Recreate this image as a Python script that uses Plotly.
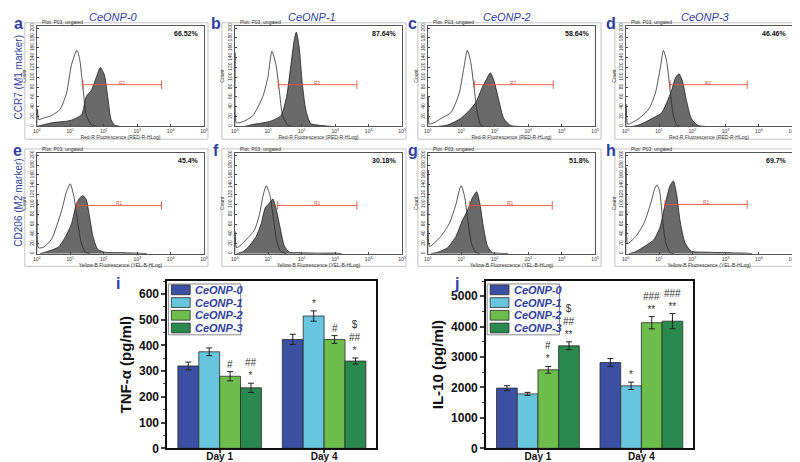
import plotly.graph_objects as go

W, H = 800, 462

# ---------------- Flow cytometry histograms (x in log10 decades, y = count) ----------------
panel_titles = ["CeONP-0", "CeONP-1", "CeONP-2", "CeONP-3"]
panel_letters = ["a", "b", "c", "d", "e", "f", "g", "h"]
percentages = ["66.52%", "87.64%", "58.64%", "46.46%", "45.4%", "30.18%", "51.8%", "69.7%"]
gate_names = ["R2", "R2", "R2", "R2", "R1", "R1", "R1", "R1"]
gate_lo = [1.38, 1.30, 1.40, 1.33, 1.21, 1.28, 1.25, 1.18]
gate_hi = [3.73, 3.65, 3.75, 3.65, 3.73, 3.65, 3.72, 3.65]
gate_level = [85, 85, 85, 85, 98, 98, 98, 100]
x_titles = ["Red-R Fluorescence (RED-R-HLog)"] * 4 + ["Yellow-B Fluorescence (YEL-B-HLog)"] * 4
row_labels = ["CCR7 (M1 marker)", "CD206 (M2 marker)"]

open_x = [
    [0.0, 0.02, 0.06, 0.15, 0.44, 0.7, 0.89, 1.04, 1.2, 1.28, 1.38, 1.48, 1.63, 1.8],
    [0.0, 0.01, 0.05, 0.22, 0.54, 0.84, 0.99, 1.11, 1.23, 1.33, 1.43, 1.58, 1.75],
    [0.0, 0.01, 0.05, 0.2, 0.39, 0.69, 0.94, 1.08, 1.18, 1.28, 1.38, 1.48, 1.58, 1.7],
    [0.0, 0.01, 0.05, 0.1, 0.39, 0.69, 0.89, 1.04, 1.13, 1.23, 1.33, 1.43, 1.53, 1.65],
    [0.0, 0.01, 0.05, 0.2, 0.44, 0.74, 0.89, 1.0, 1.11, 1.23, 1.33, 1.45, 1.6],
    [0.0, 0.01, 0.05, 0.15, 0.35, 0.59, 0.74, 0.84, 0.94, 1.04, 1.14, 1.23, 1.33, 1.43, 1.55],
    [0.0, 0.01, 0.05, 0.2, 0.39, 0.64, 0.84, 0.94, 1.0, 1.1, 1.2, 1.3, 1.43, 1.55],
    [0.0, 0.01, 0.05, 0.1, 0.3, 0.54, 0.74, 0.87, 0.94, 1.02, 1.1, 1.2, 1.33, 1.45],
]
open_y = [
    [0, 35, 14, 16, 22, 35, 68, 126, 155, 138, 80, 22, 4, 0],
    [0, 150, 8, 9, 22, 61, 100, 153, 126, 74, 22, 3, 0],
    [0, 60, 5, 8, 16, 28, 68, 120, 155, 132, 80, 28, 3, 0],
    [0, 45, 5, 5, 16, 35, 68, 120, 155, 132, 74, 22, 3, 0],
    [0, 110, 12, 13, 29, 87, 126, 142, 116, 61, 22, 3, 0],
    [0, 45, 12, 16, 29, 48, 80, 116, 138, 122, 80, 35, 9, 2, 0],
    [0, 170, 15, 22, 35, 61, 100, 129, 138, 116, 67, 22, 3, 0],
    [0, 175, 20, 22, 35, 61, 100, 132, 140, 126, 74, 22, 2, 0],
]
fill_x = [
    [0.0, 0.3, 0.5, 1.0, 1.34, 1.48, 1.63, 1.78, 1.9, 2.02, 2.12, 2.22, 2.32, 2.5],
    [0.3, 0.54, 1.04, 1.38, 1.55, 1.68, 1.78, 1.84, 1.92, 2.02, 2.12, 2.27, 2.6, 2.9],
    [0.3, 0.59, 0.98, 1.23, 1.43, 1.63, 1.73, 1.87, 1.99, 2.12, 2.27, 2.47, 2.7],
    [0.2, 0.39, 0.79, 1.08, 1.23, 1.38, 1.5, 1.6, 1.7, 1.82, 1.97, 2.17, 2.4],
    [0.1, 0.3, 0.64, 0.84, 1.04, 1.18, 1.28, 1.38, 1.48, 1.58, 1.68, 1.82, 2.02, 2.5, 3.0, 3.3],
    [0.05, 0.25, 0.44, 0.64, 0.79, 0.91, 1.04, 1.14, 1.23, 1.35, 1.48, 1.63, 1.9, 2.5, 3.0, 3.2],
    [0.1, 0.3, 0.59, 0.84, 1.03, 1.18, 1.33, 1.46, 1.56, 1.66, 1.78, 1.92, 2.1, 2.4],
    [0.1, 0.3, 0.59, 0.84, 1.03, 1.18, 1.33, 1.43, 1.53, 1.63, 1.78, 1.97, 2.37, 3.0, 3.6, 3.8],
]
fill_y = [
    [0, 5, 8, 12, 24, 61, 73, 100, 120, 105, 61, 14, 3, 0],
    [0, 4, 10, 22, 61, 126, 177, 192, 164, 87, 35, 6, 2, 0],
    [0, 3, 16, 32, 48, 80, 93, 109, 90, 54, 16, 2, 0],
    [0, 3, 16, 28, 48, 74, 100, 107, 93, 54, 16, 2, 0],
    [0, 4, 13, 32, 61, 100, 113, 118, 110, 74, 35, 9, 3, 2, 1, 0],
    [0, 4, 16, 35, 61, 93, 103, 111, 93, 55, 16, 3, 2, 1, 1, 0],
    [0, 3, 12, 35, 67, 87, 113, 126, 100, 55, 16, 2, 1, 0],
    [0, 4, 16, 28, 54, 100, 138, 148, 120, 67, 22, 5, 3, 2, 1, 0],
]
count_ticks = [0, 20, 40, 60, 80, 100, 120, 140, 160, 180, 200]
decade_ticks = [0, 1, 2, 3, 4, 5]

# ---------------- Cytokine bar charts ----------------
days = ["Day 1", "Day 4"]
groups = ["CeONP-0", "CeONP-1", "CeONP-2", "CeONP-3"]
tnf = [[320, 423], [375, 514], [280, 423], [235, 339]]
tnf_err = [[15, 20], [15, 20], [18, 15], [18, 12]]
tnf_sig = [["", ""], ["", "*"], ["#", "#"], ["##<br>*", "$<br>##<br>*"]]
il10 = [[1980, 2820], [1790, 2055], [2580, 4130], [3370, 4180]]
il10_err = [[80, 130], [50, 120], [110, 200], [130, 250]]
il10_sig = [["", ""], ["", "*"], ["#<br>*", "###<br>**"], ["$<br>##<br>**", "###<br>**"]]
bar_colors = ["#3b4fa3", "#67c6dd", "#6dbd4d", "#2a8a4e"]

BLUE = "#2f40a0"
FONT = "Arial, Liberation Sans, sans-serif"

fig = go.Figure()
layout = dict(
    width=W, height=H, autosize=False,
    margin=dict(l=0, r=0, t=0, b=0),
    paper_bgcolor="white", plot_bgcolor="white",
    font=dict(family=FONT, color="#222"),
    barmode="group", bargap=0.2, bargroupgap=0,
    showlegend=False,
)
annotations = []
shapes = []

xl = [25, 225, 420, 620]
xr = [194, 394, 589, 788]
yt = [15, 145]
yb = [118, 248]
title_cx = [103, 303, 500, 700]
letter_pos = [(7, 13), (206, 13), (405, 13), (605, 13), (6, 143), (206, 143), (405, 143), (605, 143)]
frame_x = [(13, 198), (212, 398), (410, 595), (609, 795)]
frame_y = [(12, 131), (141, 261)]

for k in range(8):
    r, c = divmod(k, 4)
    n = k + 1
    xs = "x" if n == 1 else f"x{n}"
    ys = "y" if n == 1 else f"y{n}"
    xa = "xaxis" if n == 1 else f"xaxis{n}"
    ya = "yaxis" if n == 1 else f"yaxis{n}"

    fig.add_trace(go.Scatter(
        x=[10 ** v for v in fill_x[k]], y=fill_y[k], mode="lines",
        line=dict(color="#1e1e1e", width=0.8, shape="spline", smoothing=0.6),
        fill="tozeroy", fillcolor="#6a6a6a", xaxis=xs, yaxis=ys,
        showlegend=False, hoverinfo="skip"))
    fig.add_trace(go.Scatter(
        x=[10 ** v for v in open_x[k]], y=open_y[k], mode="lines",
        line=dict(color="#2a2a2a", width=0.8, shape="spline", smoothing=0.6),
        xaxis=xs, yaxis=ys, showlegend=False, hoverinfo="skip"))
    fig.add_trace(go.Scatter(
        x=[10 ** gate_lo[k], 10 ** gate_hi[k]], y=[gate_level[k], gate_level[k]],
        mode="lines+markers", line=dict(color="#e5523f", width=0.9),
        marker=dict(symbol="line-ns", size=6, line=dict(color="#e5523f", width=0.9)),
        xaxis=xs, yaxis=ys, showlegend=False, hoverinfo="skip"))

    layout[xa] = dict(
        domain=[xl[c] / W, xr[c] / W], anchor=ys, type="log", range=[0, 5],
        tickvals=[10 ** d for d in decade_ticks],
        ticktext=[f"10<sup>{d}</sup>" for d in decade_ticks],
        tickfont=dict(size=5, color="#333"), ticks="inside", ticklen=2, tickcolor="#444",
        showline=True, mirror=True, linecolor="#555", linewidth=1,
        showgrid=False, zeroline=False,
        title=dict(text=x_titles[k], font=dict(size=5, color="#333"), standoff=1))
    layout[ya] = dict(
        domain=[1 - yb[r] / H, 1 - yt[r] / H], anchor=xs, range=[0, 205],
        tickvals=count_ticks, tickangle=-90,
        tickfont=dict(size=5, color="#333"), ticks="inside", ticklen=2, tickcolor="#444",
        showline=True, mirror=True, linecolor="#555", linewidth=1,
        showgrid=False, zeroline=False,
        title=dict(text="Count", font=dict(size=5, color="#333"), standoff=1))

    annotations.append(dict(
        x=(gate_lo[k] + gate_hi[k]) / 2, y=gate_level[k], xref=xs, yref=ys,
        text=gate_names[k], showarrow=False, font=dict(size=5, color="#e5523f"),
        xanchor="center", yanchor="bottom", yshift=-3))
    annotations.append(dict(
        x=(xr[c] - 3) / W, y=1 - (yt[r] + 2) / H, xref="paper", yref="paper",
        text=f"<b>{percentages[k]}</b>", showarrow=False, xanchor="right", yanchor="top",
        font=dict(size=7, color="#111")))
    annotations.append(dict(
        x=(xl[c] + 3) / W, y=1 - (yt[r] + 1) / H, xref="paper", yref="paper",
        text="Plot: P03, ungated", showarrow=False, xanchor="left", yanchor="bottom",
        font=dict(size=5, color="#333")))
    lx, ly = letter_pos[k]
    annotations.append(dict(
        x=lx / W, y=1 - ly / H, xref="paper", yref="paper",
        text=f"<b>{panel_letters[k]}</b>", showarrow=False, xanchor="center", yanchor="middle",
        font=dict(size=16, color=BLUE)))
    fx0, fx1 = frame_x[c]
    fy0, fy1 = frame_y[r]
    shapes.append(dict(type="rect", xref="paper", yref="paper",
                       x0=fx0 / W, x1=fx1 / W, y0=1 - fy1 / H, y1=1 - fy0 / H,
                       line=dict(color="#c4c4c4", width=1), layer="below"))

for c in range(4):
    annotations.append(dict(
        x=title_cx[c] / W, y=1 - 6 / H, xref="paper", yref="paper",
        text=f"<i>{panel_titles[c]}</i>", showarrow=False,
        xanchor="center", yanchor="middle",
        font=dict(size=11, color=BLUE)))
for r, (lab, yc) in enumerate(zip(row_labels, [68, 196])):
    annotations.append(dict(
        x=7 / W, y=1 - yc / H, xref="paper", yref="paper", text=lab, textangle=-90,
        xanchor="center", yanchor="middle",
        showarrow=False, font=dict(size=10, color=BLUE)))

# ---------------- Bars ----------------
offsets = [-0.3, -0.1, 0.1, 0.3]
bar_specs = [
    dict(n=9, vals=tnf, errs=tnf_err, sig=tnf_sig, dom=(157, 368), yr=[0, 650], dtick=100,
         minor=50, title="TNF-α (pg/ml)", letter="i", lx=107),
    dict(n=10, vals=il10, errs=il10_err, sig=il10_sig, dom=(479, 688), yr=[0, 5500], dtick=1000,
         minor=500, title="IL-10 (pg/ml)", letter="j", lx=449),
]
for spec in bar_specs:
    n = spec["n"]
    xs, ys = f"x{n}", f"y{n}"
    for s in range(4):
        fig.add_trace(go.Bar(
            x=[0, 1], y=spec["vals"][s], name=groups[s],
            error_y=dict(type="data", array=spec["errs"][s], color="#222", thickness=1, width=3),
            marker=dict(color=bar_colors[s], line=dict(color="#2b2b2b", width=0.8)),
            xaxis=xs, yaxis=ys, showlegend=False, hoverinfo="skip"))
        for d in range(2):
            if spec["sig"][s][d]:
                annotations.append(dict(
                    x=d + offsets[s], y=spec["vals"][s][d] + spec["errs"][s][d],
                    xref=xs, yref=ys, text=spec["sig"][s][d], showarrow=False,
                    xanchor="center", yanchor="bottom", yshift=0,
                    font=dict(size=10, color="#333")))
    x0, x1 = spec["dom"]
    layout[f"xaxis{n}"] = dict(
        domain=[x0 / W, x1 / W], anchor=ys, range=[-0.5, 1.5],
        tickvals=[0, 1], ticktext=days, ticks="outside", ticklen=3, tickwidth=2,
        ticklabelstandoff=-5,
        tickfont=dict(size=10, color="#111", weight="bold"),
        showline=True, mirror=True, linecolor="#111", linewidth=2,
        showgrid=False, zeroline=False)
    layout[f"yaxis{n}"] = dict(
        domain=[1 - 447 / H, 1 - 276 / H], anchor=xs, range=spec["yr"], dtick=spec["dtick"],
        ticks="outside", ticklen=4, tickwidth=1.5,
        minor=dict(dtick=spec["minor"], ticks="outside", ticklen=2, tickwidth=1),
        tickfont=dict(size=12, color="#111", weight="bold"),
        showline=True, mirror=True, linecolor="#111", linewidth=2,
        showgrid=False, zeroline=False,
        title=dict(text=spec["title"], font=dict(size=15, color="#111", weight="bold"),
                   standoff=4))
    # compact legend box inside the top-left corner
    lx0, lx1, ly0, ly1 = x0 + 1, x0 + 74, 279, 331
    shapes.append(dict(type="rect", xref="paper", yref="paper",
                       x0=lx0 / W, x1=lx1 / W, y0=1 - ly1 / H, y1=1 - ly0 / H,
                       fillcolor="white", line=dict(color="#8a8a8a", width=1)))
    for s in range(4):
        cy = 285 + 13 * s
        shapes.append(dict(type="rect", xref="paper", yref="paper",
                           x0=(lx0 + 3) / W, x1=(lx0 + 22) / W,
                           y0=1 - (cy + 5) / H, y1=1 - (cy - 5) / H,
                           fillcolor=bar_colors[s], line=dict(color="#2b2b2b", width=0.8)))
        annotations.append(dict(
            x=(lx0 + 25) / W, y=1 - cy / H, xref="paper", yref="paper",
            text=f"<b><i>{groups[s]}</i></b>", showarrow=False,
            xanchor="left", yanchor="middle", font=dict(size=11, color=BLUE)))
    annotations.append(dict(
        x=spec["lx"] / W, y=1 - 279 / H, xref="paper", yref="paper",
        text=f"<b>{spec['letter']}</b>", showarrow=False,
        xanchor="center", yanchor="middle",
        font=dict(size=16, color=BLUE)))

layout["annotations"] = annotations
layout["shapes"] = shapes
fig.update_layout(**layout)
fig.write_html("out.html")
